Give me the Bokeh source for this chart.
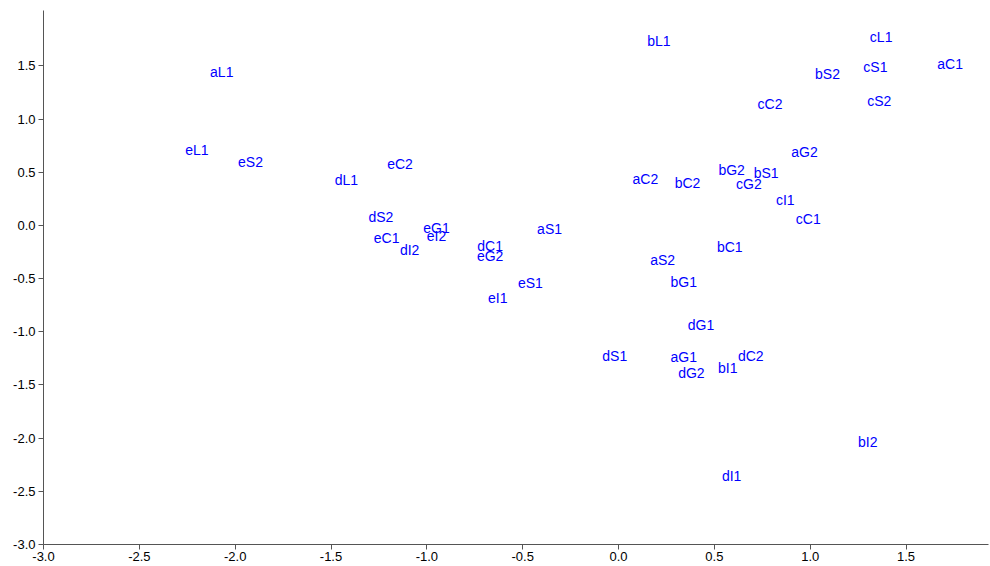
from bokeh.plotting import figure
from bokeh.models import ColumnDataSource, Range1d, FixedTicker, NumeralTickFormatter
from bokeh.core.properties import value
from bokeh.embed import file_html
from bokeh.resources import INLINE

# label positions
names = ["aL1", "bL1", "cL1", "aC1", "cS1", "bS2", "cS2", "cC2", "aG2", "eL1",
         "eS2", "eC2", "dL1", "aC2", "bC2", "bG2", "bS1", "cG2", "cI1", "cC1",
         "dS2", "eG1", "eC1", "eI2", "dI2", "aS1", "dC1", "eG2", "bC1", "aS2",
         "bG1", "eS1", "eI1", "dG1", "dS1", "aG1", "dC2", "dG2", "bI1", "bI2", "dI1"]
xs = [-2.07, 0.21, 1.37, 1.73, 1.34, 1.09, 1.36, 0.79, 0.97, -2.20,
      -1.92, -1.14, -1.42, 0.14, 0.36, 0.59, 0.77, 0.68, 0.87, 0.99,
      -1.24, -0.95, -1.21, -0.95, -1.09, -0.36, -0.67, -0.67, 0.58, 0.23,
      0.34, -0.46, -0.63, 0.43, -0.02, 0.34, 0.69, 0.38, 0.57, 1.30, 0.59]
ys = [1.44, 1.73, 1.77, 1.52, 1.49, 1.42, 1.17, 1.14, 0.69, 0.71,
      0.60, 0.58, 0.43, 0.44, 0.40, 0.52, 0.49, 0.39, 0.24, 0.06,
      0.08, -0.02, -0.12, -0.10, -0.23, -0.03, -0.19, -0.29, -0.20, -0.33,
      -0.53, -0.54, -0.68, -0.94, -1.23, -1.24, -1.23, -1.39, -1.34, -2.04, -2.36]

src = ColumnDataSource(dict(x=xs, y=ys, t=names))

p = figure(width=990, height=566, output_backend="svg", toolbar_location=None,
           x_range=Range1d(-3.0, 1.93), y_range=Range1d(-3.0, 2.02),
           min_border_left=43, min_border_right=2, min_border_top=10, min_border_bottom=22)
p.text("x", "y", text="t", source=src, text_color="blue", text_align="center",
       text_baseline="middle", text_font=value("Liberation Sans"), text_font_size="14px")

p.xgrid.visible = False
p.ygrid.visible = False
p.outline_line_color = None
ticks = [-3.0, -2.5, -2.0, -1.5, -1.0, -0.5, 0.0, 0.5, 1.0, 1.5]
p.xaxis.ticker = FixedTicker(ticks=ticks)
p.yaxis.ticker = FixedTicker(ticks=ticks)
p.xaxis.formatter = NumeralTickFormatter(format="0.0")
p.yaxis.formatter = NumeralTickFormatter(format="0.0")
for ax in (p.xaxis, p.yaxis):
    ax.minor_tick_line_color = None
    ax.major_tick_in = 0
    ax.major_tick_out = 5
    ax.axis_line_color = "#555555"
    ax.major_tick_line_color = "#555555"
    ax.major_label_text_font = "Liberation Sans"
    ax.major_label_text_font_size = "13px"
    ax.major_label_text_color = "black"
p.yaxis.major_label_standoff = 3
p.xaxis.major_label_standoff = 2

open("out.html", "w").write(file_html(p, INLINE))
